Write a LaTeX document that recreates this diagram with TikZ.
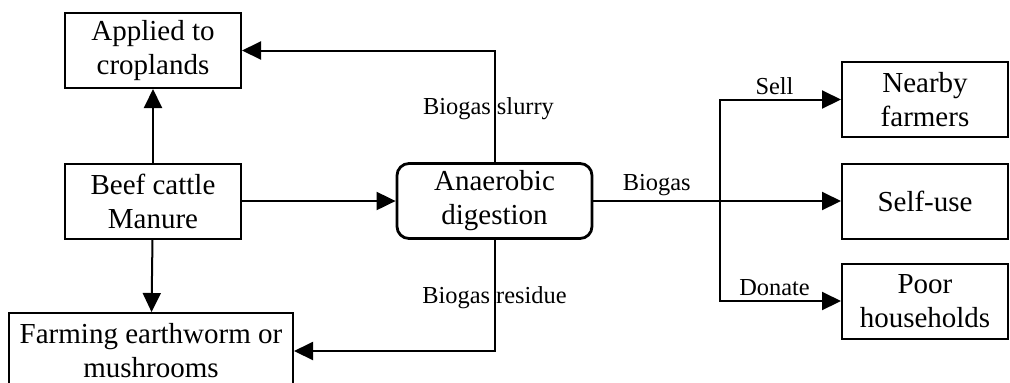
\documentclass[tikz,border=0pt]{standalone}
\usepackage{fontspec}
\setmainfont{Liberation Serif}
\usepackage{tikz}
\usetikzlibrary{arrows.meta}

\tikzset{
  boxnode/.style={draw, line width=1pt, minimum width=88pt, minimum height=37.5pt, align=center, inner sep=0.75pt, font=\fontsize{14.5}{17}\selectfont},
  digestnode/.style={boxnode, line width=1.4pt, rounded corners=6pt, minimum width=97.5pt},
  flow/.style={line width=1pt, -{Triangle[length=9.5pt, width=9pt]}},
  plain/.style={line width=1pt},
  lbl/.style={font=\fontsize{12.2}{14}\selectfont, inner sep=2pt}
}

\begin{document}
\begin{tikzpicture}[x=0.5pt,y=0.5pt,yscale=-1,xscale=1]
%set diagram frame to 1010 x 382
\useasboundingbox (0,0) rectangle (1010,382);

%Shape: Rectangle [crop]
\node [boxnode] (crop) at (153,50.5) {Applied to\\croplands};
%Shape: Rectangle [beef]
\node [boxnode] (beef) at (153,201) {Beef cattle\\Manure};
%Shape: Rectangle [farm]
\node [boxnode, minimum width=142pt, minimum height=38pt] (farm) at (151,351) {Farming earthworm or\\mushrooms};
%Shape: Rounded Rect [digest]
\node [digestnode] (digest) at (494.5,201) {Anaerobic\\digestion};
%Shape: Rectangle [sell]
\node [boxnode, minimum width=83pt] (sell) at (925,99.5) {Nearby\\farmers};
%Shape: Rectangle [self]
\node [boxnode, minimum width=83pt] (self) at (925,201) {Self-use};
%Shape: Rectangle [poor]
\node [boxnode, minimum width=83pt] (poor) at (925,301) {Poor\\households};

%branch point of the biogas line
\coordinate (split) at (720,201);

%Straight Lines
\draw [flow] (beef) -- (crop);
\draw [flow] (beef) -- (farm);
\draw [flow] (beef) -- (digest);
\draw [flow] (digest.north) |- node [lbl, pos=0.24, xshift=-3pt] {Biogas slurry} (crop.east);
\draw [flow] (digest.south) |- node [lbl, pos=0.26] {Biogas residue} (farm.east);
\draw [plain] (digest.east) -- node [lbl, above] {Biogas} (split);
\draw [flow] (split) -- (self.west);
\draw [flow] (split) |- node [lbl, above, pos=0.75, xshift=-3pt] {Sell} (sell.west);
\draw [flow] (split) |- node [lbl, above, pos=0.75, xshift=-3pt] {Donate} (poor.west);

\end{tikzpicture}
\end{document}
